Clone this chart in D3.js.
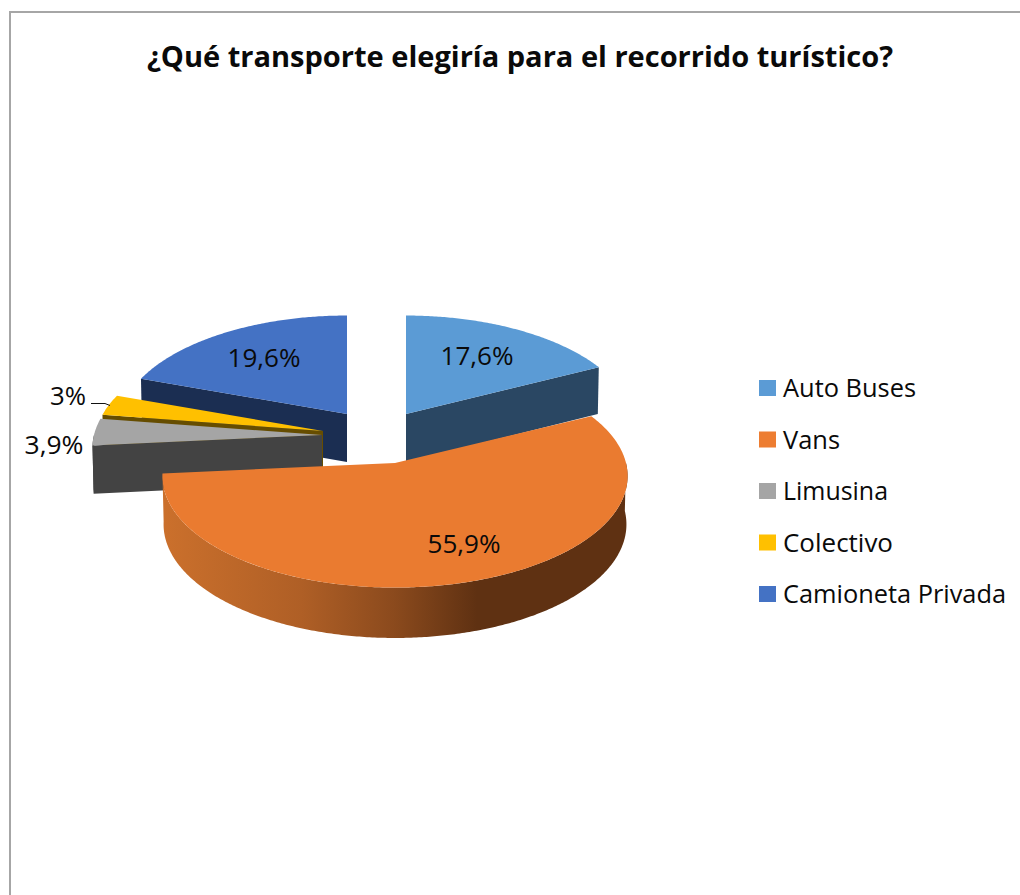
<!DOCTYPE html>
<html>
<head>
<meta charset="utf-8">
<title>¿Qué transporte elegiría para el recorrido turístico?</title>
<script src="https://cdn.jsdelivr.net/npm/d3@7"></script>
<style>
html,body{margin:0;padding:0;background:#fff;overflow:hidden}
svg{display:block}
text{font-family:"Open Sans",Lato,sans-serif;fill:#0a0a0a}
</style>
</head>
<body>
<script>
const titleText = "¿Qué transporte elegiría para el recorrido turístico?";
const categories = ["Auto Buses", "Vans", "Limusina", "Colectivo", "Camioneta Privada"];
const values = [17.6, 55.9, 3.9, 3, 19.6];
const valueLabels = ["17,6%", "55,9%", "3,9%", "3%", "19,6%"];

const topColors = ["#5B9BD5", "#EA7B30", "#A5A5A5", "#FFC000", "#4472C4"];
const legendColors = ["#5B9BD5", "#ED7D31", "#A5A5A5", "#FFC000", "#4472C4"];
const wallColors = ["#2A4763", "#5F3112", "#434343", "#664D00", "#1B2E52"];
const sliceCentersX = [406, 395, 322, 323, 347];
const sliceCentersY = [414, 463, 435, 431, 414];
const sliceRadiiX = [227, 231, 228, 227, 227];
const labelX = [477, 464, 54, 68, 264];
const labelY = [355, 543, 444, 395, 357];
const labelWidths = [73, 73, 59, 36, 73];
const legendWidths = [133, 57, 105, 110, 223];
const drawOrder = [4, 0, 3, 2, 1];

const W = 1020, H = 895;
const RY = 110, PERSPECTIVE = 0.117, DEPTH = 48, LOWER_SHRINK = 0.995;

const svg = d3.select("body").append("svg").attr("width", W).attr("height", H);

const defs = svg.append("defs");
const vansGrad = defs.append("linearGradient").attr("id", "vansWall")
  .attr("gradientUnits", "userSpaceOnUse").attr("x1", 163).attr("x2", 625).attr("y1", 0).attr("y2", 0);
[[0, "#CB702C"], [0.3, "#AF5F26"], [0.5, "#8B4A1D"], [0.68, "#5F3112"], [1, "#5F3112"]]
  .forEach(([o, c]) => vansGrad.append("stop").attr("offset", o).attr("stop-color", c));

// chart frame (only top and left edges are in view)
svg.append("path").attr("d", `M${W},12 H10 V${H}`).attr("fill", "none")
  .attr("stroke", "#a6a6a6").attr("stroke-width", 2);

svg.append("text").attr("x", 520).attr("y", 67).attr("text-anchor", "middle")
  .attr("font-size", 29).attr("font-weight", 700)
  .attr("textLength", 746).attr("lengthAdjust", "spacingAndGlyphs").text(titleText);

const pieData = d3.pie().sort(null).value(d => d)(values);

// ground-plane angle → screen, with mild perspective
function project(i, a, drop) {
  const u = Math.sin(a), v = -Math.cos(a);
  const s = 1 / (1 - PERSPECTIVE * v);
  const k = drop ? LOWER_SHRINK : 1;
  return [sliceCentersX[i] + sliceRadiiX[i] * u * s * k, sliceCentersY[i] + RY * v * s + (drop || 0)];
}
const depthAt = a => DEPTH * (1 + 0.05 * -Math.cos(a));
const line = d3.line();
const arcPts = (i, a0, a1, dropFn) => {
  const n = Math.max(2, Math.ceil(Math.abs(a1 - a0) / 0.01));
  return d3.range(n + 1).map(k => {
    const a = a0 + (a1 - a0) * k / n;
    return project(i, a, dropFn ? dropFn(a) : 0);
  });
};

const g = svg.append("g");
drawOrder.forEach(i => {
  const d = pieData[i];
  const apex = [sliceCentersX[i], sliceCentersY[i]];
  const apexLow = [apex[0], apex[1] + DEPTH];

  // straight cut walls that face the viewer
  if (Math.sin(d.endAngle) > 1e-6) {
    g.append("path").attr("fill", wallColors[i]).attr("d", line([
      apex, project(i, d.endAngle), project(i, d.endAngle, depthAt(d.endAngle)), apexLow]) + "Z");
  }
  if (Math.sin(d.startAngle) < -1e-6) {
    g.append("path").attr("fill", wallColors[i]).attr("d", line([
      apex, project(i, d.startAngle), project(i, d.startAngle, depthAt(d.startAngle)), apexLow]) + "Z");
  }
  // rounded outer wall (front half only)
  const lo = Math.max(d.startAngle, Math.PI / 2), hi = Math.min(d.endAngle, 3 * Math.PI / 2);
  if (hi > lo) {
    const upper = arcPts(i, lo, hi);
    const lower = arcPts(i, hi, lo, depthAt);
    g.append("path").attr("fill", i === 1 ? "url(#vansWall)" : wallColors[i])
      .attr("d", line(upper.concat(lower)) + "Z");
  }
  // top face
  g.append("path").attr("fill", topColors[i])
    .attr("d", line([apex].concat(arcPts(i, d.startAngle, d.endAngle))) + "Z");
});

// data labels
svg.append("g").selectAll("text").data(valueLabels).join("text")
  .attr("x", (d, i) => labelX[i]).attr("y", (d, i) => labelY[i])
  .attr("text-anchor", "middle").attr("dominant-baseline", "central")
  .attr("font-size", 25.5)
  .attr("textLength", (d, i) => labelWidths[i]).attr("lengthAdjust", "spacingAndGlyphs")
  .text(d => d);

// leader line for the 3% label
const cI = categories.indexOf("Colectivo");
svg.append("path").attr("fill", "none").attr("stroke", "#111").attr("stroke-width", 1)
  .attr("d", line([[labelX[cI] + 23, labelY[cI] + 8.5], [labelX[cI] + 37, labelY[cI] + 8.5], [labelX[cI] + 42, labelY[cI] + 10.5]]));

// legend
const legendY = d3.scalePoint().domain(categories).range([388, 594]);
const legend = svg.append("g").selectAll("g").data(categories).join("g")
  .attr("transform", d => `translate(0,${legendY(d)})`);
legend.append("rect").attr("x", 759).attr("y", -8).attr("width", 17).attr("height", 16)
  .attr("fill", (d, i) => legendColors[i]);
legend.append("text").attr("x", 783).attr("y", -1).attr("dominant-baseline", "central")
  .attr("font-size", 25.5)
  .attr("textLength", (d, i) => legendWidths[i]).attr("lengthAdjust", "spacingAndGlyphs")
  .text(d => d);
</script>
</body>
</html>
